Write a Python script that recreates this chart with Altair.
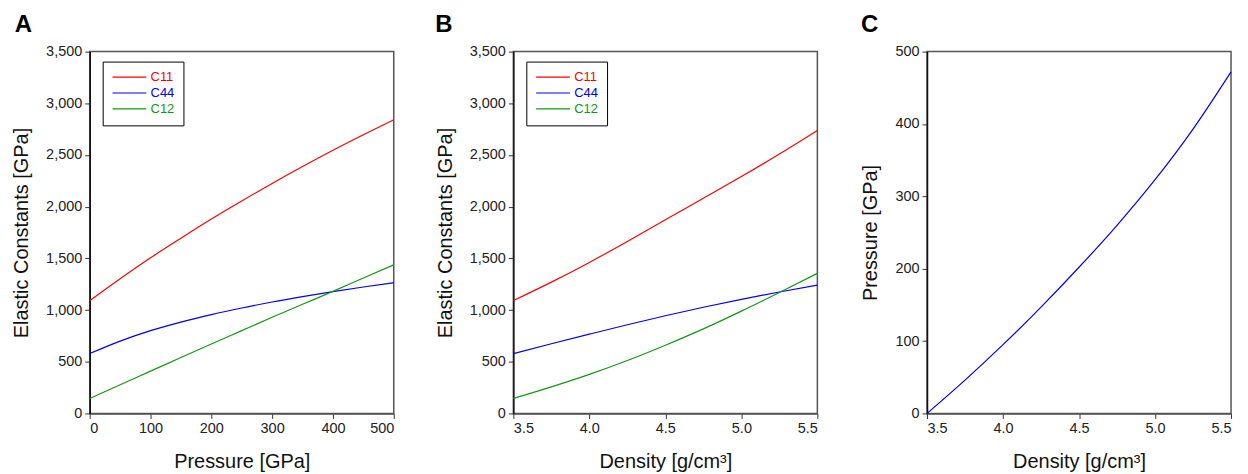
import altair as alt
import pandas as pd

# ---- Panel A: elastic constants vs pressure ----
pressure = [0, 50, 100, 150, 200, 250, 300, 350, 400, 450, 500]
c11_p = [1090, 1302, 1505, 1695, 1880, 2055, 2225, 2388, 2545, 2695, 2840]
c44_p = [579, 700, 801, 884, 956, 1020, 1078, 1130, 1178, 1223, 1265]
c12_p = [145, 278, 409, 541, 672, 801, 930, 1056, 1181, 1310, 1438]

# ---- Panel B: elastic constants vs density ----
density = [3.5, 3.75, 4.0, 4.25, 4.5, 4.75, 5.0, 5.25, 5.5]
c11_d = [1091, 1270, 1461, 1664, 1873, 2082, 2291, 2510, 2738]
c44_d = [579, 674, 767, 858, 945, 1027, 1104, 1175, 1242]
c12_d = [145, 257, 378, 512, 660, 818, 990, 1170, 1355]

# ---- Panel C: pressure vs density ----
pres_d = [0, 46, 95, 147, 202, 260, 323, 393, 472]

series = ["C11", "C44", "C12"]
colors = ["#ff0000", "#0000ee", "#119911"]

FONT = "Liberation Sans"
W, H = 305, 363

df_a = pd.DataFrame(
    [(p, v, s) for s, vals in zip(series, [c11_p, c44_p, c12_p]) for p, v in zip(pressure, vals)],
    columns=["x", "value", "series"],
)
df_b = pd.DataFrame(
    [(d, v, s) for s, vals in zip(series, [c11_d, c44_d, c12_d]) for d, v in zip(density, vals)],
    columns=["x", "value", "series"],
)
df_c = pd.DataFrame({"x": density, "value": pres_d})

label_color_expr = (
    "datum.value == 'C11' ? '#ff0000' : (datum.value == 'C44' ? '#0000ee' : '#119911')"
)

legend = alt.Legend(
    title=None,
    orient="none",
    legendX=13,
    legendY=10,
    strokeColor="#000",
    fillColor="#fff",
    padding=9,
    symbolType="M-1,0H5",
    symbolSize=128,
    symbolStrokeWidth=1.2,
    symbolFillColor="transparent",
    labelFont=FONT,
    labelFontSize=13,
    labelOffset=26,
    rowPadding=2,
    labelColor=alt.ExprRef(expr=label_color_expr),
)

color = alt.Color(
    "series:N",
    scale=alt.Scale(domain=series, range=colors),
    legend=legend,
    sort=series,
)

elastic_ticks = [0, 500, 1000, 1500, 2000, 2500, 3000, 3500]
dens_ticks = [3.5, 4.0, 4.5, 5.0, 5.5]


def title(t, dx=0):
    return alt.TitleParams(
        text=t, anchor="start", frame="bounds", fontSize=24, fontWeight="bold",
        font=FONT, color="#000", offset=7, dx=dx,
    )


chart_a = alt.Chart(df_a, title=title("A", 3)).mark_line(
    strokeWidth=1.2, interpolate="monotone"
).encode(
    x=alt.X("x:Q", scale=alt.Scale(domain=[0, 500], nice=False),
            axis=alt.Axis(title="Pressure [GPa]", values=[0, 100, 200, 300, 400, 500])),
    y=alt.Y("value:Q", scale=alt.Scale(domain=[0, 3500], nice=False),
            axis=alt.Axis(title="Elastic Constants [GPa]", values=elastic_ticks, format=",.0f")),
    color=color,
    detail="series:N",
).properties(width=W, height=H)

chart_b = alt.Chart(df_b, title=title("B")).mark_line(
    strokeWidth=1.2, interpolate="monotone"
).encode(
    x=alt.X("x:Q", scale=alt.Scale(domain=[3.5, 5.5], nice=False),
            axis=alt.Axis(title="Density [g/cm³]", values=dens_ticks, format=".1f")),
    y=alt.Y("value:Q", scale=alt.Scale(domain=[0, 3500], nice=False),
            axis=alt.Axis(title="Elastic Constants [GPa]", values=elastic_ticks, format=",.0f")),
    color=color,
    detail="series:N",
).properties(width=W, height=H)

chart_c = alt.Chart(df_c, title=title("C")).mark_line(
    strokeWidth=1.2, interpolate="monotone", color="#0000ee"
).encode(
    x=alt.X("x:Q", scale=alt.Scale(domain=[3.5, 5.5], nice=False),
            axis=alt.Axis(title="Density [g/cm³]", values=dens_ticks, format=".1f")),
    y=alt.Y("value:Q", scale=alt.Scale(domain=[0, 500], nice=False),
            axis=alt.Axis(title="Pressure [GPa]", values=[0, 100, 200, 300, 400, 500])),
).properties(width=W, height=H)

ab = alt.hconcat(chart_a, chart_b, spacing=36).resolve_scale(
    color="independent", x="independent", y="independent"
).resolve_legend(color="independent")

chart = alt.hconcat(ab, chart_c, spacing=39).resolve_scale(
    color="independent", x="independent", y="independent"
).resolve_legend(color="independent").properties(
    padding={"left": 2, "top": 3, "right": 5, "bottom": 0}
).configure_axis(
    labelFont=FONT,
    labelFontSize=14.5,
    labelColor="#222",
    titleFont=FONT,
    titleFontSize=20,
    titleFontWeight="normal",
    titleColor="#111",
    tickSize=5,
    tickColor="#333",
    tickWidth=1,
    domainColor="#111",
    domainWidth=1.5,
    grid=False,
    labelPadding=3,
).configure_axisX(titlePadding=17, domainColor="#555").configure_axisY(
    titlePadding=14
).configure_view(
    stroke="#555", strokeWidth=1.5
)

chart.save("out.html", embed_options={"renderer": "svg", "actions": False})
